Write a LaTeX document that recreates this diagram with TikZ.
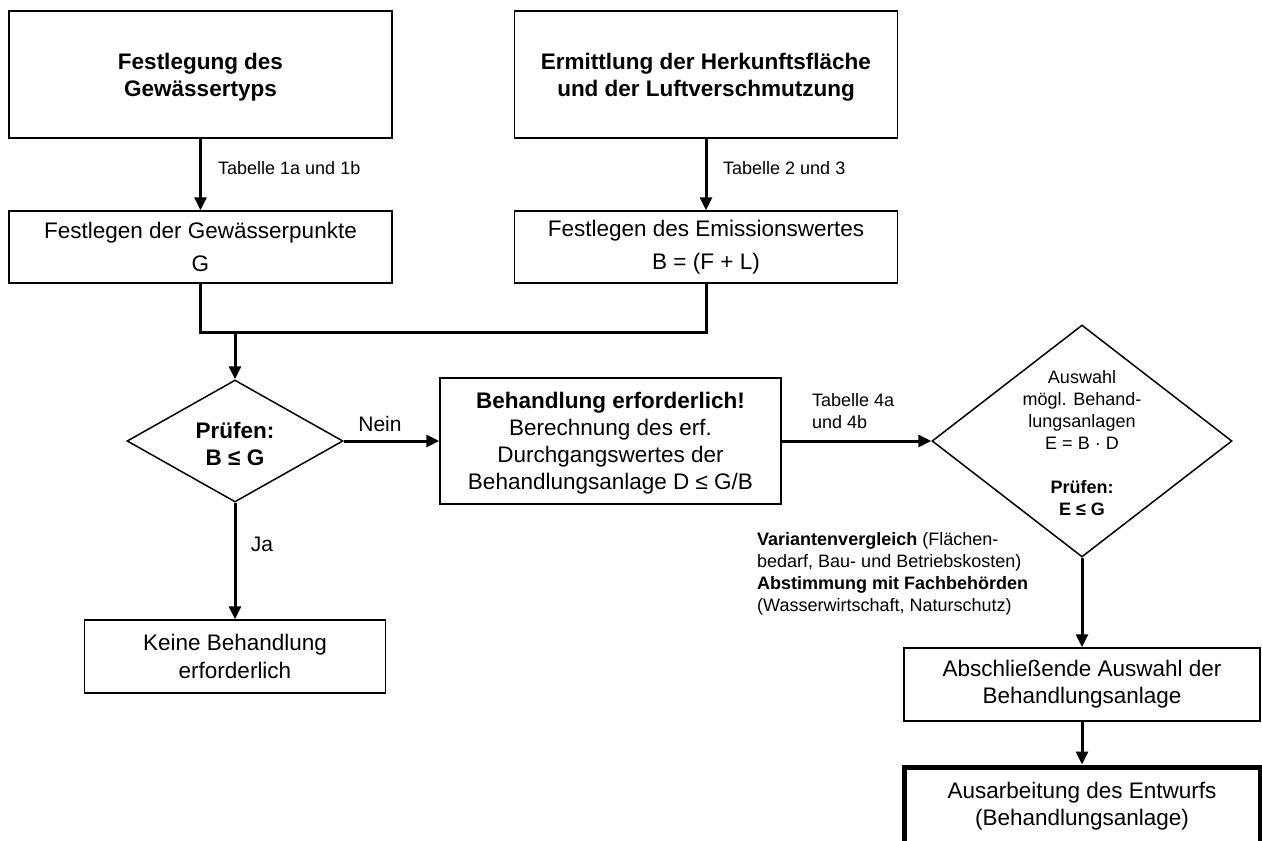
\documentclass[tikz,border=0pt]{standalone}
\usepackage{fontspec}
\setmainfont{Liberation Sans}
\usetikzlibrary{arrows.meta,shapes.geometric}
\begin{document}
\begin{tikzpicture}[x=1pt,y=-1pt,
  box/.style={draw, line width=1.5pt, align=center, inner sep=0pt},
  thickbox/.style={draw, line width=5pt, align=center, inner sep=0pt},
  big/.style={font=\fontsize{22.5}{27}\selectfont},
  bigb/.style={font=\fontsize{22.5}{27}\selectfont\bfseries},
  bigw/.style={font=\fontsize{22.5}{33}\selectfont},
  small/.style={font=\fontsize{18}{22}\selectfont},
  lower/.style={text depth=-#1},
  lab/.style={inner sep=0pt, align=left},
  dia/.style={draw, diamond, line width=1.5pt, inner sep=0pt},
  conn/.style={line width=3pt},
  arr/.style={conn, -{Triangle[length=13pt,width=12pt]}}]
\useasboundingbox (0,0) rectangle (1262,841);

% top boxes
\node[box,bigb,lower=5pt,minimum width=383pt,minimum height=127pt] (b1) at (200.5,74.5) {Festlegung des\\Gewässertyps};
\node[box,bigb,lower=5pt,minimum width=383pt,minimum height=127pt] (b2) at (706,74.5) {Ermittlung der Herkunftsfläche\\und der Luftverschmutzung};
\node[box,bigw,minimum width=383pt,minimum height=72pt] (b3) at (200.5,247) {Festlegen der Gewässerpunkte\\G};
\node[box,bigw,minimum width=383pt,minimum height=72pt] (b4) at (706,247) {Festlegen des Emissionswertes\\B = (F + L)};

\node[lab,small,anchor=west] (l1) at (218,168) {Tabelle 1a und 1b};
\node[lab,small,anchor=west] (l2) at (723,168) {Tabelle 2 und 3};

% left diamond
\node[dia,minimum width=216pt,minimum height=122pt] (dL) at (235,441) {};
\node[bigb,align=center,inner sep=0pt] (tL) at (235,444) {Prüfen:\\B ≤ G};

% centre box
\node[box,big,lower=5pt,minimum width=341pt,minimum height=126pt] (c) at (610.5,441) {\textbf{Behandlung erforderlich!}\\Berechnung des erf.\\Durchgangswertes der\\Behandlungsanlage D ≤ G/B};

% right diamond
\node[dia,minimum width=300pt,minimum height=232pt] (dR) at (1082,441) {};
\node[small,align=center,inner sep=0pt] (tR) at (1082,443) {Auswahl\\mögl. Behand-\\lungsanlagen\\E = B · D\\[22pt]\textbf{Prüfen:}\\\textbf{E ≤ G}};

\node[lab,small,anchor=west] (l4) at (812,411) {Tabelle 4a\\und 4b};
\node[lab,font=\fontsize{21}{25}\selectfont] (nein) at (380,424) {Nein};
\node[lab,font=\fontsize{21}{25}\selectfont] (ja) at (262,544) {Ja};

\node[lab,small,anchor=west] (var) at (757,573.5) {\textbf{Variantenvergleich} (Flächen-\\bedarf, Bau- und Betriebskosten)\\\textbf{Abstimmung mit Fachbehörden}\\(Wasserwirtschaft, Naturschutz)};

% bottom boxes
\node[box,font=\fontsize{22.5}{28}\selectfont,lower=3pt,minimum width=301pt,minimum height=73pt] (kb) at (235,656.5) {Keine Behandlung\\erforderlich};
\node[box,big,minimum width=356pt,minimum height=73pt] (ab) at (1082,684.5) {Abschließende Auswahl der\\Behandlungsanlage};
\node[thickbox,big,minimum width=356pt,minimum height=78pt] (tb) at (1082,806) {Ausarbeitung des Entwurfs\\(Behandlungsanlage)};

% connectors
\coordinate (m) at (235,332);
\draw[arr] (b1.south) -- (b3.north);
\draw[arr] (b2.south) -- (b4.north);
\draw[conn] (b3.south) -- (b3.south |- m) -- (b4.south |- m) -- (b4.south);
\draw[arr] (m) -- (dL.north);
\draw[arr] (dL.east) -- (c.west);
\draw[arr] (dL.south) -- (kb.north);
\draw[arr] (c.east) -- (dR.west);
\draw[arr] (dR.south) -- (ab.north);
\draw[arr] (ab.south) -- (tb.north);
\end{tikzpicture}
\end{document}
